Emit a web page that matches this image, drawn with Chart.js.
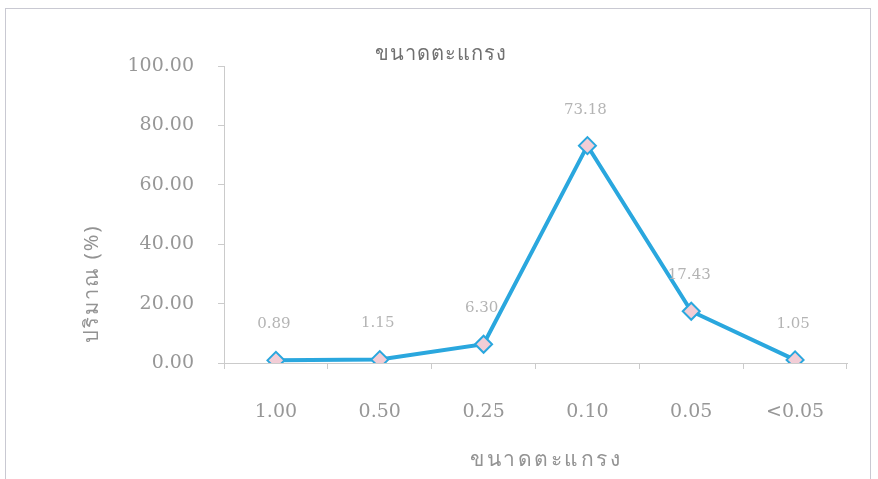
<!DOCTYPE html>
<html>
<head>
<meta charset="utf-8">
<script src="https://cdn.jsdelivr.net/npm/chart.js@4/dist/chart.umd.min.js"></script>
<style>
  html, body { margin: 0; padding: 0; background: #ffffff; }
  #wrap { position: relative; width: 878px; height: 479px; }
  #frame { position: absolute; left: 5px; top: 8px; width: 866px; height: 480px;
           border: 1px solid #c9c9d2; border-bottom: none; box-sizing: border-box; }
  canvas { position: absolute; left: 0; top: 0; }
</style>
</head>
<body>
<div id="wrap">
  <div id="frame"></div>
  <canvas id="c" width="878" height="479"></canvas>
</div>
<script>
// Sieve sizes (mm) and the share retained on each sieve (%)
const sieveSizes = ['1.00', '0.50', '0.25', '0.10', '0.05', '<0.05'];
const percentRetained = [0.89, 1.15, 6.30, 73.18, 17.43, 1.05];
const yTicks = [0, 20, 40, 60, 80, 100];

const chartTitle = 'ขนาดตะแกรง';
const xTitle = 'ขนาดตะแกรง';
const yTitle = 'ปริมาณ (%)';

const serif = '"DejaVu Serif", "Liberation Serif", serif';
const thai = '"Noto Sans", "DejaVu Sans", sans-serif';

function spacedText(ctx, text, x, y, spacing) {
  if ('letterSpacing' in ctx) {
    ctx.letterSpacing = spacing + 'px';
    ctx.fillText(text, x + spacing / 2, y);
    ctx.letterSpacing = '0px';
  } else {
    ctx.fillText(text, x, y);
  }
}

// Writes the value above each point and the free-standing titles
const annotate = {
  id: 'annotate',
  afterDatasetsDraw(chart) {
    const ctx = chart.ctx;
    const meta = chart.getDatasetMeta(0);
    ctx.save();
    ctx.font = '15px ' + serif;
    ctx.fillStyle = '#b4b4b4';
    ctx.textAlign = 'center';
    ctx.textBaseline = 'middle';
    meta.data.forEach((pt, i) => {
      ctx.fillText(percentRetained[i].toFixed(2), pt.x - 2, pt.y - 36);
    });

    ctx.font = '20px ' + thai;
    ctx.fillStyle = '#707070';
    spacedText(ctx, chartTitle, 440, 54, 1);

    ctx.font = '21px ' + thai;
    ctx.fillStyle = '#939393';
    spacedText(ctx, xTitle, 545, 460, 2.5);

    ctx.font = '20px ' + thai;
    ctx.translate(92, 285);
    ctx.rotate(-Math.PI / 2);
    spacedText(ctx, yTitle, 0, 0, 2);
    ctx.restore();
  }
};

new Chart(document.getElementById('c'), {
  type: 'line',
  data: {
    labels: sieveSizes,
    datasets: [{
      data: percentRetained,
      borderColor: '#2aa7de',
      borderWidth: 4,
      tension: 0,
      pointStyle: 'rectRot',
      pointRadius: 8.5,
      pointHoverRadius: 8.5,
      pointBackgroundColor: '#f2cdd6',
      pointBorderColor: '#2aa7de',
      pointBorderWidth: 2
    }]
  },
  options: {
    responsive: false,
    animation: false,
    devicePixelRatio: 1,
    layout: { padding: { left: 0, top: 66, right: 31, bottom: 0 } },
    plugins: { legend: { display: false }, tooltip: { enabled: false }, title: { display: false } },
    scales: {
      x: {
        offset: true,
        grid: { display: true, drawOnChartArea: false, drawTicks: true, tickLength: 6,
                color: '#cbcbcb', offset: true },
        border: { display: true, color: '#cbcbcb', width: 1 },
        ticks: { color: '#979797', font: { family: serif, size: 19 }, padding: 32 },
        afterFit(scale) { scale.height = 116; }
      },
      y: {
        min: 0, max: 100,
        afterBuildTicks(scale) { scale.ticks = yTicks.map(v => ({ value: v })); },
        grid: { display: true, drawOnChartArea: false, drawTicks: true, tickLength: 6,
                color: '#cbcbcb' },
        border: { display: true, color: '#cbcbcb', width: 1 },
        ticks: { color: '#979797', font: { family: serif, size: 19 }, padding: 24,
                 callback: v => Number(v).toFixed(2) },
        afterFit(scale) { scale.width = 224; }
      }
    }
  },
  plugins: [annotate]
});
</script>
</body>
</html>
